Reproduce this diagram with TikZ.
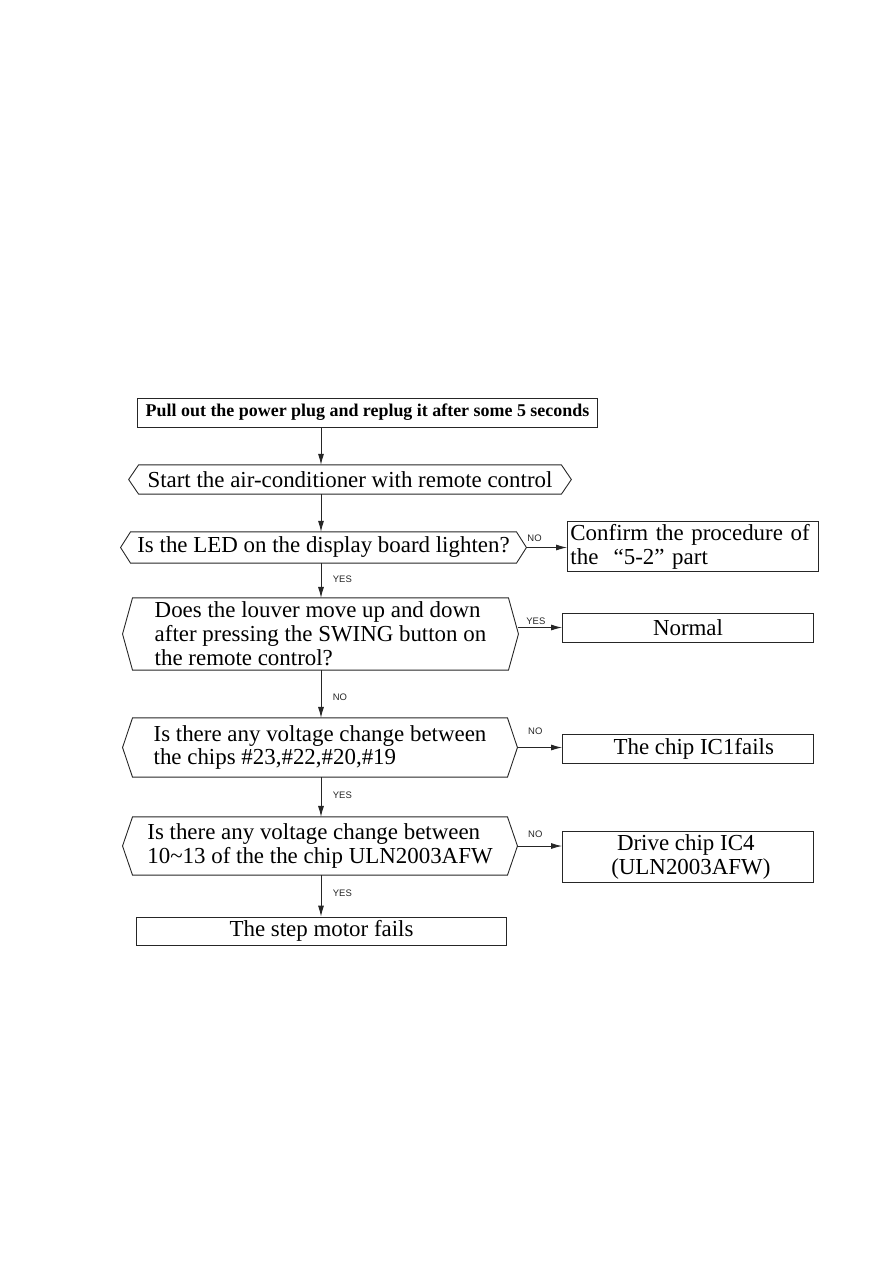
\documentclass[tikz,border=0pt]{standalone}
\usepackage{fontspec}
\setmainfont{Liberation Serif}
\newfontfamily\lblfont{Liberation Sans}
\usetikzlibrary{arrows.meta}
\begin{document}
\begin{tikzpicture}[font=\fontsize{23}{24}\selectfont, line join=miter, >={Latex[length=11pt,width=6pt]}, x=1bp, y=-1bp]
				\tikzset{ln/.style={draw=black!85, line width=0.9pt},
					boxed/.style={ln, inner sep=0pt},
					hexa/.style={inner sep=0pt},
					lbl/.style={font=\lblfont\fontsize{9.5}{10}\selectfont, text=black!85, inner sep=0.5pt},
					vlbl/.style={lbl, pos=0.45, anchor=west, xshift=11}}
				\useasboundingbox (0,0) rectangle (893,1263);
				\def\ax{321}
				\coordinate (axis) at (\ax,0);
				\node[boxed, font=\fontsize{18}{20}\selectfont\bfseries, minimum width=461, minimum height=29] (plug) at (367.5,412.5) {Pull out the power plug and replug it after some 5 seconds};
				\node[hexa, minimum width=444, minimum height=29] (start) at (350,479.5) {Start the air-conditioner with remote control};
				\node[hexa, minimum width=407, minimum height=31] (led) at (323.5,547.5) {Is the LED on the display board lighten?};
				\node[hexa, align=left, minimum width=397, minimum height=72] (swing) at (320.5,634) {Does the louver move up and down\\after pressing the SWING button on\\the remote control?};
				\node[hexa, align=left, minimum width=396, minimum height=59] (volt) at (320,747.5) {Is there any voltage change between\\the chips \#23,\#22,\#20,\#19};
				\node[hexa, align=left, minimum width=396, minimum height=58] (uln) at (320,846) {Is there any voltage change between\\10\textasciitilde 13 of the the chip ULN2003AFW};
				\node[boxed, align=left, text width=246, inner xsep=3, minimum height=51] (confirm) at (693,546.5) {Confirm the procedure of\\the \ “5-2” part};
				\node[boxed, minimum width=252, minimum height=29] (normal) at (688,627.5) {Normal};
				\node[boxed, minimum width=252, minimum height=29] (ic1) at (688,748.5) {\ \ The chip IC1fails};
				\node[boxed, align=left, minimum width=252, minimum height=52] (ic4) at (688,857) {\ \ Drive chip IC4\\\ (ULN2003AFW)};
				\node[boxed, minimum width=371, minimum height=28] (motor) at (321.5,931) {The step motor fails};
				\foreach \n in {start,led,swing,volt,uln} \draw[ln] ([xshift=10]\n.north west)--([xshift=-10]\n.north east)--(\n.east)--([xshift=-10]\n.south east)--([xshift=10]\n.south west)--(\n.west)--cycle;
				\draw[ln,->] (plug.south -| axis)--(start.north -| axis);
				\draw[ln,->] (start.south -| axis)--(led.north -| axis);
				\draw[ln,->] (led.south -| axis)--node[vlbl] (yes1) {YES} (swing.north -| axis);
				\draw[ln,->] (swing.south -| axis)--node[vlbl, pos=0.56] (no2) {NO} (volt.north -| axis);
				\draw[ln,->] (volt.south -| axis)--node[vlbl] (yes3) {YES} (uln.north -| axis);
				\draw[ln,->] (uln.south -| axis)--node[vlbl, pos=0.43] (yes4) {YES} (motor.north -| axis);
				\draw[ln,->] (led.east)--node[lbl, pos=0.2, above=5] (no1) {NO} (led.east -| confirm.west);
				\draw[ln,->] (normal.west -| swing.east)--node[lbl, pos=0.4, above=2] (yes2) {YES} (normal.west);
				\draw[ln,->] (volt.east)--node[lbl, pos=0.4, above=12] (no3) {NO} (volt.east -| ic1.west);
				\draw[ln,->] (uln.east)--node[lbl, pos=0.4, above=7] (no4) {NO} (uln.east -| ic4.west);
			\end{tikzpicture}
\end{document}
